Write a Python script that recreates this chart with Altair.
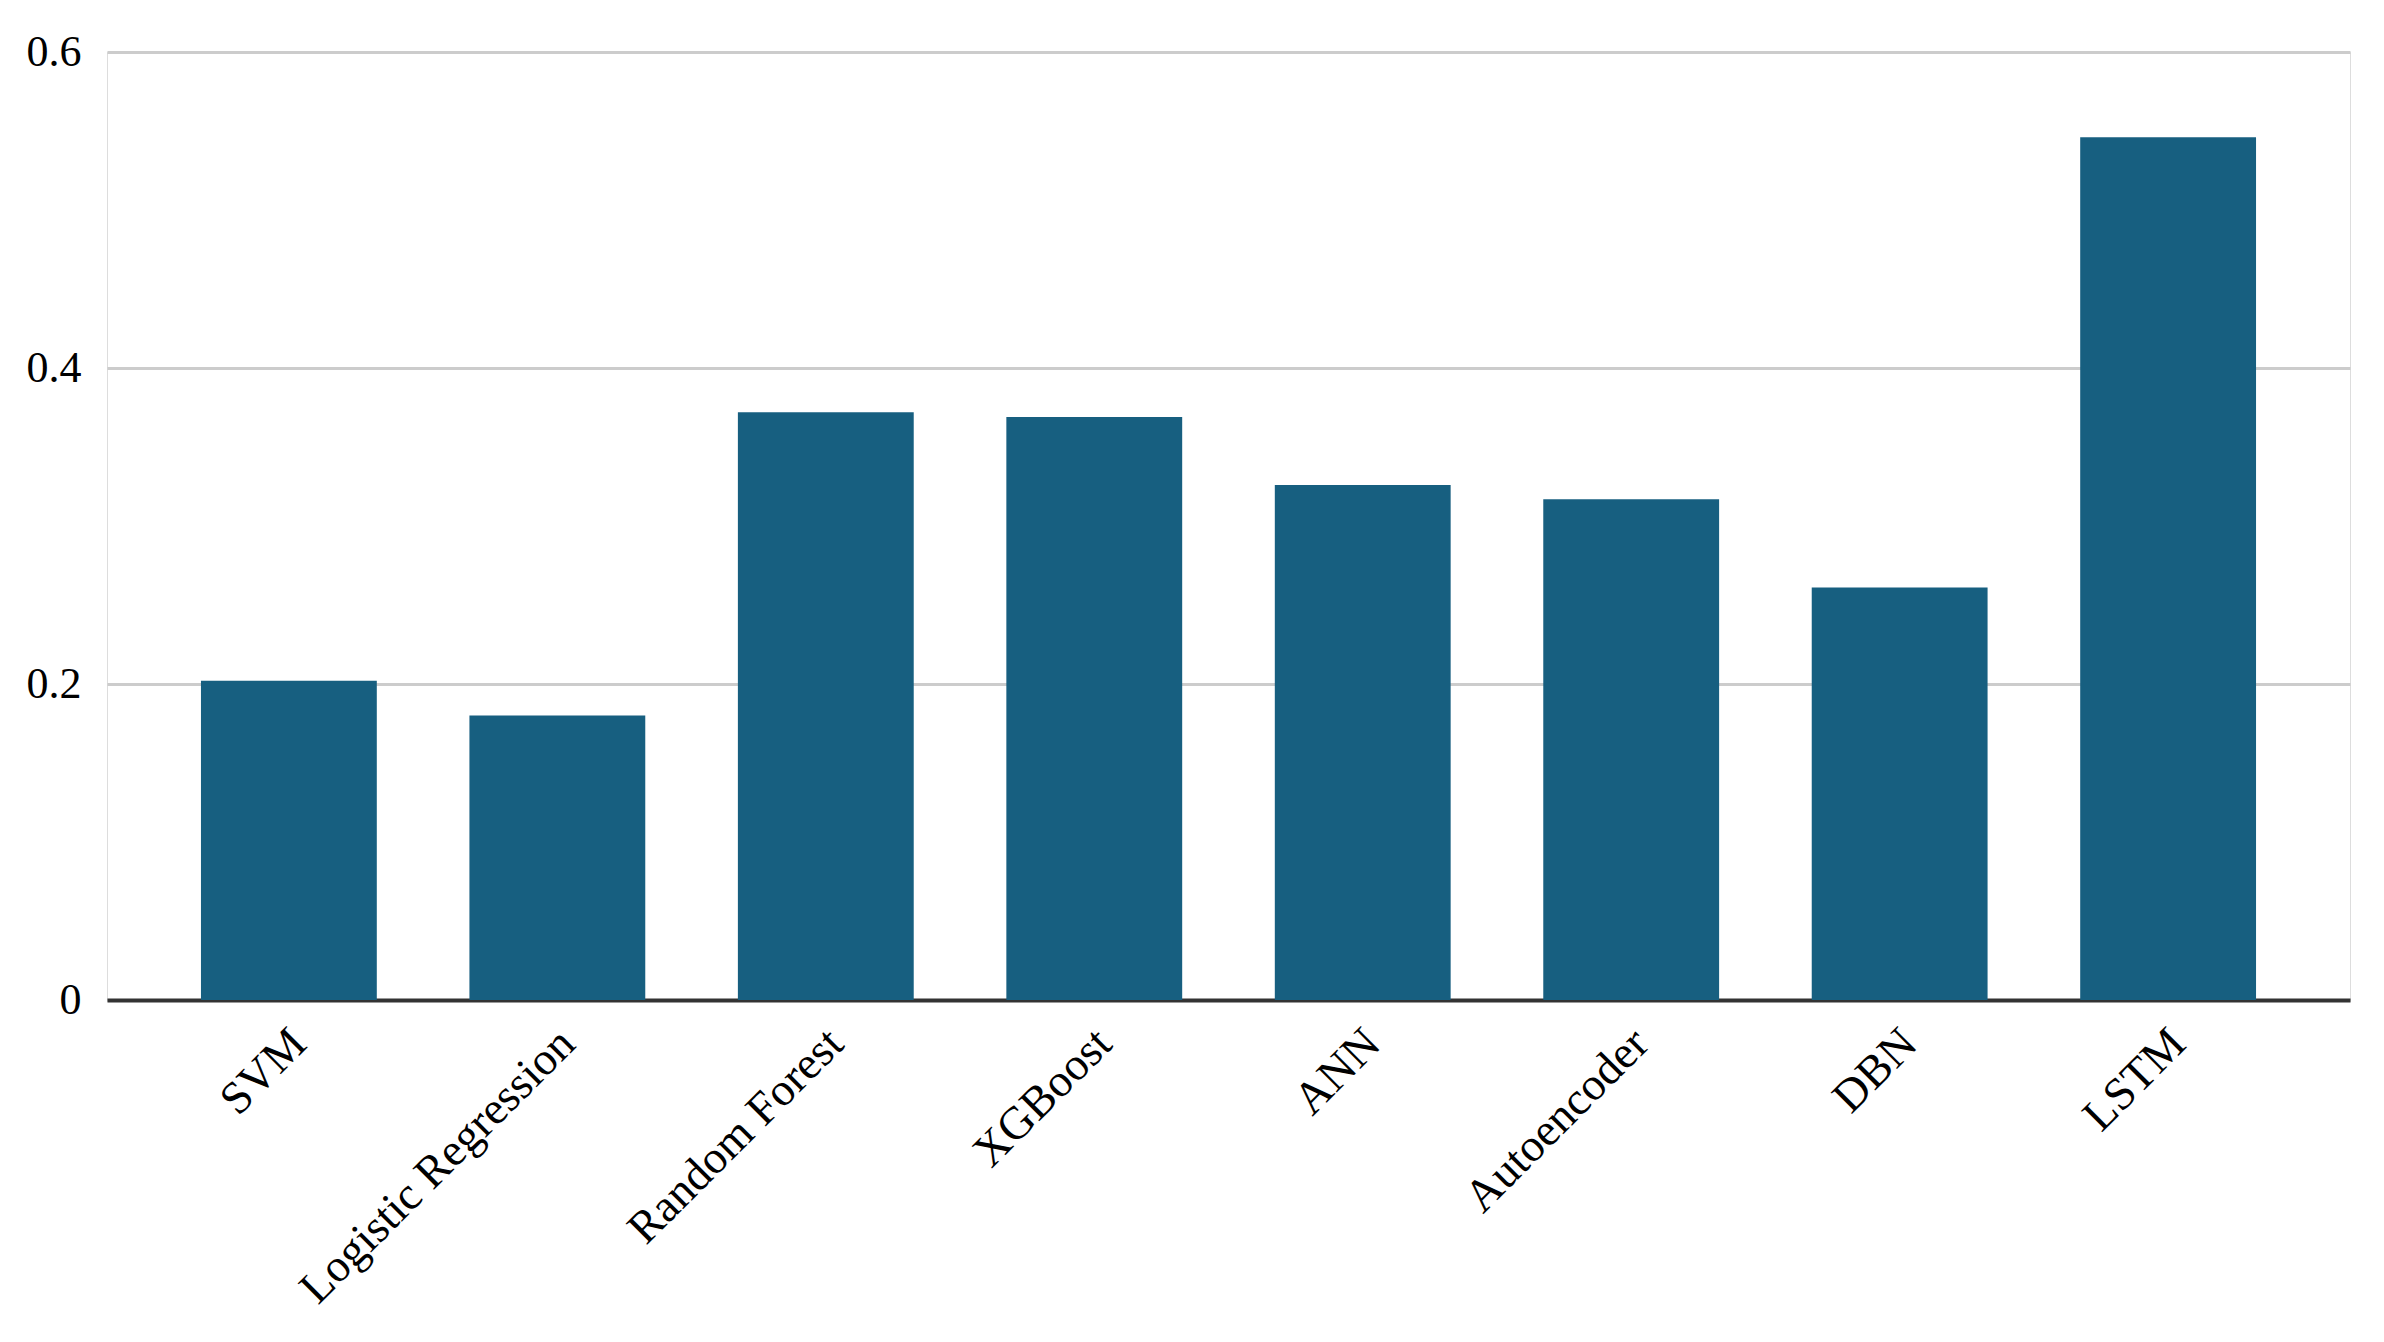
import altair as alt
import pandas as pd

models = ["SVM", "Logistic Regression", "Random Forest", "XGBoost", "ANN",
          "Autoencoder", "DBN", "LSTM"]
values = [0.202, 0.180, 0.372, 0.369, 0.326, 0.317, 0.261, 0.546]
y_ticks = [0, 0.2, 0.4, 0.6]

df = pd.DataFrame({"model": models, "value": values})

FONT = "Liberation Serif"

chart = (
    alt.Chart(df)
    .mark_bar(color="#175f80")
    .encode(
        x=alt.X(
            "model:N",
            sort=models,
            title=None,
            scale=alt.Scale(paddingInner=0.345, paddingOuter=0.35),
            axis=alt.Axis(
                labelAngle=-45,
                labelAlign="right",
                labelBaseline="middle",
                labelFont=FONT,
                labelFontSize=46,
                labelColor="#000000",
                labelPadding=36,
                labelOffset=10,
                labelLimit=2000,
                labelOverlap=False,
                ticks=False,
                tickSize=0,
                domain=True,
                domainColor="#333333",
                domainWidth=4,
                grid=False,
            ),
        ),
        y=alt.Y(
            "value:Q",
            title=None,
            scale=alt.Scale(domain=[0, 0.6], nice=False),
            axis=alt.Axis(
                values=y_ticks,
                labelExpr="datum.value == 0 ? '0' : format(datum.value, '.1f')",
                labelFont=FONT,
                labelFontSize=44,
                labelColor="#000000",
                labelPadding=26,
                ticks=False,
                tickSize=0,
                domain=False,
                grid=True,
                gridColor="#cccccc",
                gridWidth=3,
            ),
        ),
    )
    .properties(
        width=2243,
        height=948,
        autosize=alt.AutoSizeParams(type="none"),
        padding={"left": 99, "top": 44, "right": 15, "bottom": 320},
    )
    .configure_view(stroke=None)
    .configure(background="#ffffff")
)

chart.save("out.html", embed_options={"renderer": "svg", "actions": False})
